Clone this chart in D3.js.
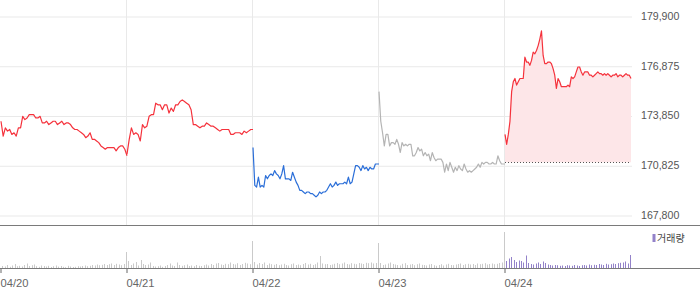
<!DOCTYPE html>
<html>
<head>
<meta charset="utf-8">
<script src="https://cdn.jsdelivr.net/npm/d3@7"></script>
<style>
    body { margin: 0; background: #fff; }
    svg { display: block; font-family: "DejaVu Sans", sans-serif; }
</style>
</head>
<body>
<svg id="chart" width="700" height="289"></svg>
<script>
    // 5 day intraday chart, prices in won, volumes in hundreds of shares
    let dayLabels = ["04/20", "04/21", "04/22", "04/23", "04/24"]
    let priceTicks = [167800, 170825, 173850, 176875, 179900]
    let prevClose = 171000

    let day1 = [173500,172600,173100,172900,173000,172700,172800,172600,173100,173100,173800,173600,173700,173900,173900,173900,173700,173700,173800,173400,173400,173500,173300,173400,173500,173500,173300,173400,173500,173300,173400,173400,173300,173100,173000,173000,172900,172800,172700,172500,172600,172800,172400,172400,172300,172200,172000,171900,171800,171900,171900,171900,171900,171700,171900,172000,172000,171800,171400]
    let day2 = [171500,172400,173100,172700,172800,172700,172300,173300,173100,173200,173800,173900,173900,174600,174500,174500,174200,174500,174500,174000,174300,174100,174500,174500,174700,174800,174700,174600,174500,174200,173300,173300,173200,173100,173200,173200,173400,173300,173200,173200,173100,173000,172900,173000,173000,173000,173000,172700,172700,172800,172800,172800,172700,172900,172800,172900,173000,173000]
    let day3 = [171900,169600,169500,170100,169500,169600,169500,170200,170000,170200,170300,170200,170500,170300,170200,170000,170300,170800,170000,170000,170000,169900,170400,170100,169800,169600,169300,169300,169200,169100,169200,169200,169100,169100,169000,168900,169000,169200,169100,169200,169200,169300,169500,169700,169500,169600,169800,169600,169700,169700,169700,169800,169700,170100,169700,169800,170300,170800,170800,170700,170500,170800,170600,170700,170500,170700,170600,170600,170900,170900,170900]
    let day4 = [175300,173500,172800,172000,172700,172700,172000,172200,172200,172100,172400,172100,171600,172200,172000,172100,172000,172100,172100,171400,171400,171600,171900,171700,171800,171400,171600,171400,171500,171100,171600,171300,171100,171200,171200,171200,171000,170400,170900,170500,171000,170700,170400,170700,170500,170800,170600,170500,170900,170600,170400,170500,170400,170500,170600,170700,170900,170700,171000,170900,171000,171000,170900,170900,171000,170900,170900,171400,171100,170900,170900,170900]
    let day5 = [172700,172100,172700,173500,175300,175900,176100,175700,175900,176100,176100,176100,177400,177100,177100,176900,177200,177700,177600,177800,178100,178500,179000,177500,177000,177000,177100,177100,177000,176700,176300,175500,176100,175900,175600,175600,175600,175600,175700,175600,176200,176100,176200,176500,176800,176800,176500,176300,176500,176500,176500,176300,176300,176200,176300,176400,176500,176400,176400,176300,176400,176300,176400,176300,176200,176300,176300,176400,176200,176300,176300,176200,176300,176400,176300,176300,176100]

    let vol1 = [20,15,30,12,25,40,18,22,15,30,45,20,28,35,18,12,25,20,15,22,10,18,25,14,20,12,8,22,15,10,12,18,15,20,25,18,22,30,25,35,28,32,40,30,38,45,30,42,35,28,40,160]
    let vol2 = [70,30,45,60,25,80,40,30,35,55,20,15,18,25,12,20,30,45,25,20,55,30,22,28,35,20,25,18,30,22,20,28,35,25,40,30,45,50,35,30,42,38,55,40,35,48,30,40,52,45,38,270]
    let vol3 = [60,35,50,40,55,30,45,38,32,40,28,35,42,30,25,38,45,30,35,28,40,50,35,42,30,38,55,120,45,38,40,30,35,42,50,38,45,55,40,35,48,42,38,50,45,40,52,48,55,45,50,250]
    let vol4 = [50,30,35,45,55,40,35,30,25,42,48,30,35,40,28,38,45,32,30,25,35,40,28,22,30,38,25,35,42,30,28,35,40,45,30,38,42,35,40,30,45,38,42,48,35,40,45,38,42,50,55,360]
    let vol5 = [70,95,110,80,60,75,70,55,125,50,40,35,45,55,40,65,50,35,30,25,30,28,22,25,20,28,25,22,30,25,20,28,30,25,35,28,32,30,40,35,30,42,35,38,45,40,48,52,55,65,45,130]

    let prices = [day1, day2, day3, day4, day5]
    let volumes = [vol1, vol2, vol3, vol4, vol5]

    let lineColors = ["#f5323c", "#f5323c", "#2a6ed8", "#b4b4b4", "#f5323c"]
    let volColors = ["#cacaca", "#cacaca", "#cacaca", "#cacaca", "#9382c9"]

    let svg = d3.select("#chart")
    let plotRight = 632

    let x = d3.scaleLinear().domain([0, 5]).range([1, 631])
    let xv = d3.scaleLinear().domain([0, 5]).range([0, 630])
    let y = d3.scaleLinear().domain([167800, 179900]).range([215, 16])
    let yv = d3.scaleLinear().domain([0, 400]).range([268, 228])

    // horizontal grid
    let grid = svg.append("g")
        .call(d3.axisLeft(y).tickValues(priceTicks).tickSize(-plotRight).tickFormat(""))
    grid.select(".domain").remove()
    grid.selectAll("line")
        .attr("stroke", "#e9e9e9")
        .attr("transform", "translate(0,0.5)")

    // vertical day lines
    svg.append("g").selectAll("line")
        .data([1, 2, 3, 4])
        .join("line")
        .attr("x1", d => xv(d) + 0.5)
        .attr("x2", d => xv(d) + 0.5)
        .attr("y1", 0)
        .attr("y2", 225)
        .attr("stroke", "#e9e9e9")

    // price labels on the right
    let yAxis = svg.append("g")
        .attr("transform", "translate(" + plotRight + ",0)")
        .call(d3.axisRight(y).tickValues(priceTicks).tickFormat(d3.format(",")).tickSize(0).tickPadding(9))
    yAxis.select(".domain").remove()
    yAxis.selectAll("text")
        .attr("fill", "#555")
        .style("font-size", "10.6px")

    // fill of the last day against the previous close
    let area5 = d3.area()
        .x((d, i) => x(4 + i / (day5.length - 1)))
        .y0(y(prevClose))
        .y1(d => y(d))
    svg.append("path")
        .datum(day5)
        .attr("d", area5)
        .attr("fill", "#fde6e8")

    svg.append("line")
        .attr("x1", x(4))
        .attr("x2", x(5))
        .attr("y1", Math.round(y(prevClose)) + 0.5)
        .attr("y2", Math.round(y(prevClose)) + 0.5)
        .attr("stroke", "#555")
        .attr("stroke-dasharray", "1,2")

    // price lines, one per day
    prices.forEach((vals, d) => {
        let valueLine = d3.line()
            .x((v, i) => x(d + i / (vals.length - 1)))
            .y(v => y(v))
        svg.append("path")
            .datum(vals)
            .attr("d", valueLine)
            .attr("fill", "none")
            .attr("stroke", lineColors[d])
            .attr("stroke-width", 1.2)
            .attr("stroke-linejoin", "round")
    })

    // borders
    svg.append("line")
        .attr("x1", 0).attr("x2", 700)
        .attr("y1", 225.5).attr("y2", 225.5)
        .attr("stroke", "#7a7a7a")

    // volume bars
    volumes.forEach((vals, d) => {
        svg.append("g").selectAll("rect")
            .data(vals)
            .join("rect")
            .attr("x", (v, i) => Math.round(xv(d + (i + 1) / vals.length)))
            .attr("width", 1)
            .attr("y", v => yv(v))
            .attr("height", v => 268 - yv(v))
            .attr("fill", volColors[d])
    })

    // date axis
    let xAxis = svg.append("g")
        .attr("transform", "translate(0,268)")
        .call(d3.axisBottom(xv).tickValues([0, 1, 2, 3, 4]).tickFormat(i => dayLabels[i]).tickSize(5))
    xAxis.select(".domain").remove()
    xAxis.selectAll(".tick line").attr("stroke", "#666").attr("transform", "translate(0.5,0)")
    xAxis.selectAll("text")
        .attr("text-anchor", "start")
        .attr("y", 11.5)
        .attr("fill", "#666")
        .style("font-size", "11.2px")

    svg.append("line")
        .attr("x1", 0).attr("x2", 700)
        .attr("y1", 268.5).attr("y2", 268.5)
        .attr("stroke", "#7a7a7a")

    // legend
    svg.append("rect")
        .attr("x", 652.5).attr("y", 234)
        .attr("width", 3).attr("height", 8)
        .attr("fill", "#9382c9")
    svg.append("text")
        .attr("x", 657).attr("y", 241.5)
        .attr("fill", "#444")
        .style("font-family", "'Noto Sans CJK KR', sans-serif")
        .style("font-size", "10px")
        .text("거래량")
</script>
</body>
</html>
